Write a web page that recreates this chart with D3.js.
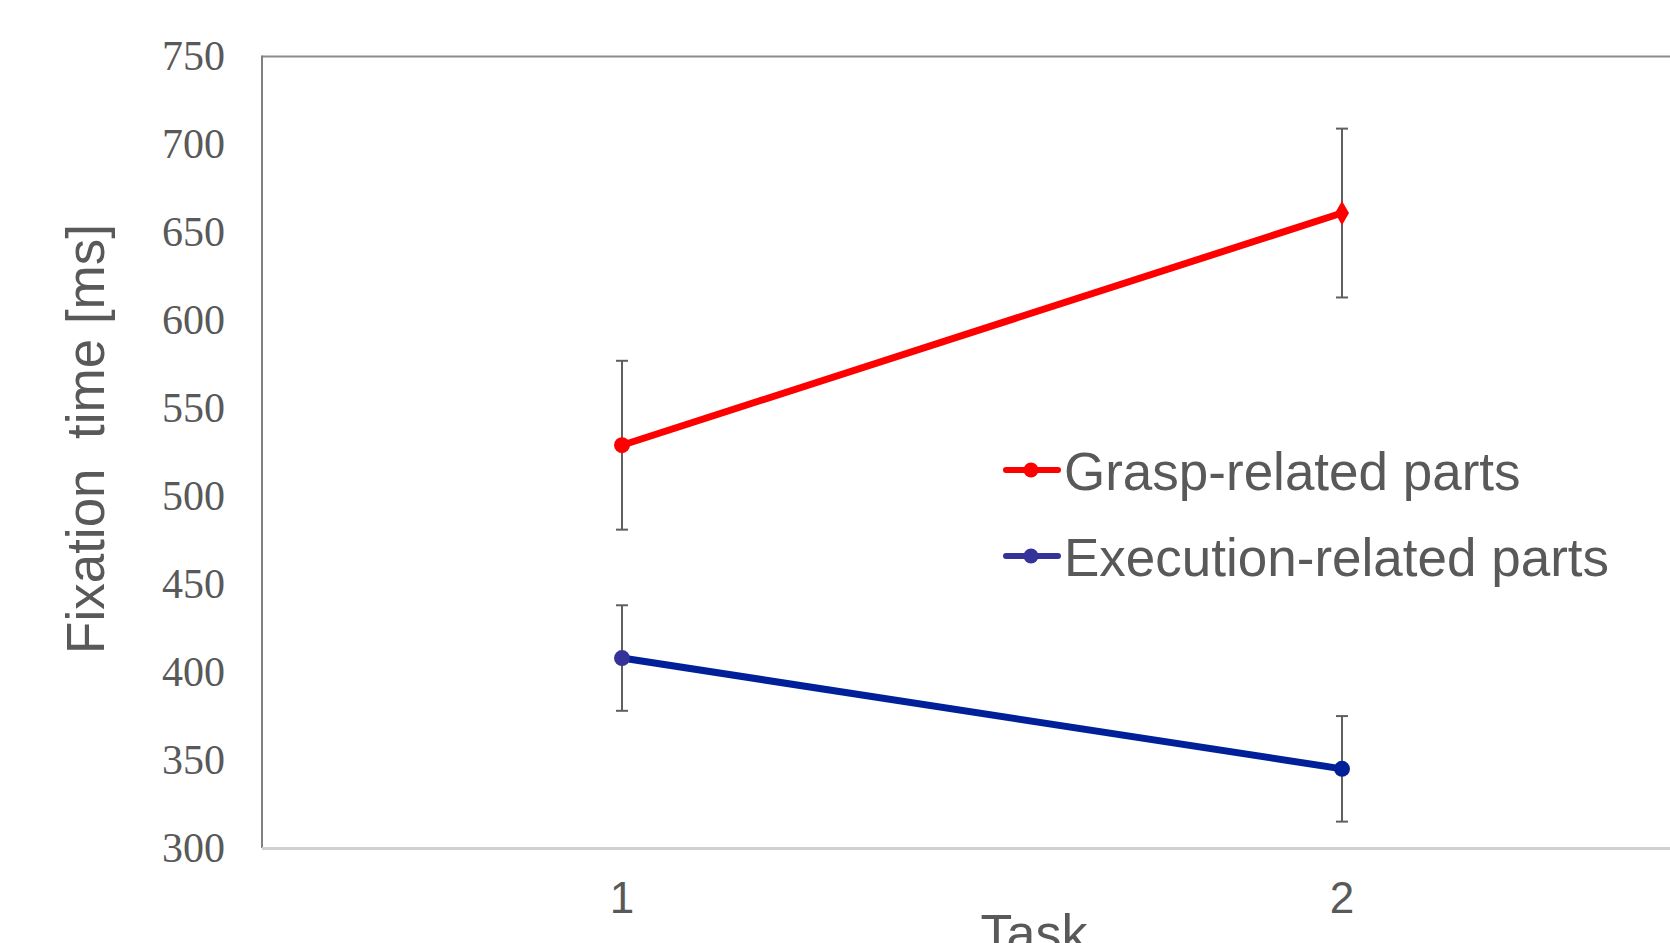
<!DOCTYPE html>
<html lang="en">
    <head>
        <meta charset="utf-8">
        <title>Fixation time</title>
        <script type="text/javascript" src="https://cdn.jsdelivr.net/npm/d3@7"></script>
        <style>
            body { margin: 0; background: #fff; overflow: hidden; }
            svg { display: block; }
        </style>
    </head>
    <body>
        <script type="text/javascript">
            //Width and height
            var w = 1670;
            var h = 943;

            //data
            var tasks = ["1", "2"];
            var yTicks = [300, 350, 400, 450, 500, 550, 600, 650, 700, 750];
            var seriesNames = ["Grasp-related parts", "Execution-related parts"];
            var graspMeans = [529, 661];
            var graspErr = [48, 48];
            var execMeans = [408, 345];
            var execErr = [30, 30];

            var series = [
                { name: seriesNames[0], values: graspMeans, err: graspErr, color: "#ff0000",
                  markers: ["circle", "diamond"], markerColors: ["#ff0000", "#ff0000"], legendColor: "#ff0000" },
                { name: seriesNames[1], values: execMeans, err: execErr, color: "#00209a",
                  markers: ["circle", "circle"], markerColors: ["#333399", "#00209a"], legendColor: "#333399" }
            ];

            var svg = d3.select("body").append("svg").attr("width", w).attr("height", h);

            // plot area runs off the right side of the picture
            var x = d3.scaleBand().domain(tasks).range([262, 1702]);
            var y = d3.scaleLinear().domain([300, 750]).range([848, 56.5]);
            var cx = function(t) { return x(t) + x.bandwidth() / 2; };

            //frame: top and left darker, bottom axis lighter
            svg.append("line")
                .attr("x1", 262).attr("x2", 1702)
                .attr("y1", y(750)).attr("y2", y(750))
                .attr("stroke", "#8c8c8c").attr("stroke-width", 2);
            svg.append("line")
                .attr("x1", 262).attr("x2", 262)
                .attr("y1", y(750) - 1).attr("y2", y(300))
                .attr("stroke", "#808080").attr("stroke-width", 2);
            svg.append("line")
                .attr("x1", 262).attr("x2", 1702)
                .attr("y1", y(300) + 0.5).attr("y2", y(300) + 0.5)
                .attr("stroke", "#d0d0d0").attr("stroke-width", 3);

            //y axis labels
            var yAxis = d3.axisLeft(y).tickValues(yTicks).tickSize(0).tickPadding(37);
            var gy = svg.append("g").attr("transform", "translate(262,0)").call(yAxis);
            gy.select(".domain").remove();
            gy.selectAll("text")
                .attr("font-family", "'Liberation Serif', 'Times New Roman', serif")
                .attr("font-size", "42px")
                .attr("fill", "#595959");

            //x axis labels
            var xAxis = d3.axisBottom(x).tickSize(0).tickPadding(0);
            var gx = svg.append("g").attr("transform", "translate(0,882)").call(xAxis);
            gx.select(".domain").remove();
            gx.selectAll("text")
                .attr("dy", "0.71em")
                .attr("font-family", "'Liberation Sans', Arial, sans-serif")
                .attr("font-size", "44px")
                .attr("fill", "#595959");

            //axis titles
            svg.append("text")
                .text("Fixation  time [ms]")
                .attr("transform", "translate(104,439) rotate(-90)")
                .attr("text-anchor", "middle")
                .style("white-space", "pre")
                .attr("font-family", "'Liberation Sans', Arial, sans-serif")
                .attr("font-size", "53px")
                .attr("fill", "#595959");

            // cut off at the bottom edge, as in the original
            svg.append("text")
                .text("Task")
                .attr("x", 1034)
                .attr("y", 951)
                .attr("text-anchor", "middle")
                .attr("font-family", "'Liberation Sans', Arial, sans-serif")
                .attr("font-size", "52px")
                .attr("fill", "#595959");

            //error bars
            series.forEach(function(s) {
                var eb = svg.append("g").selectAll("g")
                    .data(tasks)
                    .enter()
                    .append("g")
                    .attr("stroke", "#5f5f5f")
                    .attr("stroke-width", 2);
                eb.append("line")
                    .attr("x1", function(d) { return cx(d); })
                    .attr("x2", function(d) { return cx(d); })
                    .attr("y1", function(d, i) { return y(s.values[i] + s.err[i]); })
                    .attr("y2", function(d, i) { return y(s.values[i] - s.err[i]); });
                [1, -1].forEach(function(sign) {
                    eb.append("line")
                        .attr("x1", function(d) { return cx(d) - 6; })
                        .attr("x2", function(d) { return cx(d) + 6; })
                        .attr("y1", function(d, i) { return y(s.values[i] + sign * s.err[i]); })
                        .attr("y2", function(d, i) { return y(s.values[i] + sign * s.err[i]); });
                });
            });

            //lines and markers
            var line = d3.line()
                .x(function(d, i) { return cx(tasks[i]); })
                .y(function(d) { return y(d); });

            series.forEach(function(s) {
                svg.append("path")
                    .datum(s.values)
                    .attr("d", line)
                    .attr("fill", "none")
                    .attr("stroke", s.color)
                    .attr("stroke-width", 7);

                svg.append("g").selectAll("path")
                    .data(s.values)
                    .enter()
                    .append("path")
                    .attr("transform", function(d, i) {
                        return "translate(" + cx(tasks[i]) + "," + y(d) + ")";
                    })
                    .attr("d", function(d, i) {
                        var type = s.markers[i] === "diamond" ? d3.symbolDiamond : d3.symbolCircle;
                        return d3.symbol().type(type).size(s.markers[i] === "diamond" ? 170 : 200)();
                    })
                    .attr("fill", function(d, i) { return s.markerColors[i]; });
            });

            //legend
            var legend = svg.append("g").selectAll("g")
                .data(series)
                .enter()
                .append("g")
                .attr("transform", function(d, i) {
                    return "translate(0," + (470 + i * 86) + ")";
                });
            legend.append("line")
                .attr("x1", 1006).attr("x2", 1058)
                .attr("y1", 0).attr("y2", 0)
                .attr("stroke", function(d) { return d.legendColor; })
                .attr("stroke-width", 6)
                .attr("stroke-linecap", "round");
            legend.append("circle")
                .attr("cx", 1031).attr("cy", 0).attr("r", 7.5)
                .attr("fill", function(d) { return d.legendColor; });
            legend.append("text")
                .text(function(d) { return d.name; })
                .attr("x", 1064)
                .attr("y", 20)
                .attr("font-family", "'Liberation Sans', Arial, sans-serif")
                .attr("font-size", "53px")
                .attr("fill", "#595959");
        </script>
    </body>
</html>
